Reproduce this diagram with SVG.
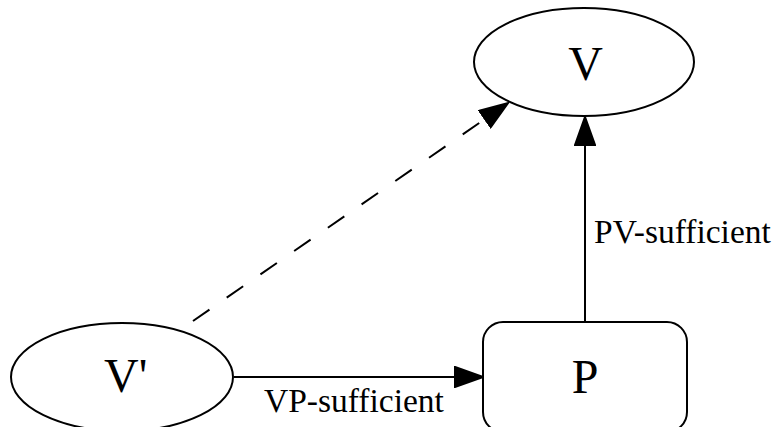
<svg xmlns="http://www.w3.org/2000/svg" width="777" height="427" viewBox="0 0 777 427">
<style>
.node{fill:#fff;stroke:#000;stroke-width:2}
.lbl{font-family:"Liberation Serif","Times New Roman",serif;fill:#000}
.big{font-size:48px}
.small{font-size:33.5px}
.edge{fill:none;stroke:#000;stroke-width:2}
.dash{stroke-dasharray:20,21}
</style>
<defs>
<marker id="ah" markerUnits="userSpaceOnUse" markerWidth="30" markerHeight="22" viewBox="0 0 30 22" refX="1" refY="11" orient="auto">
<path d="M1,1 L29,11 L1,21 Z" fill="#000" stroke="#000" stroke-width="2" stroke-dasharray="none"/>
</marker>
</defs>
<rect width="777" height="427" fill="#fff"/>
<g id="edges">
<line class="edge dash" x1="193" y1="321" x2="485" y2="119" marker-end="url(#ah)"/>
<line class="edge" x1="585" y1="322" x2="585" y2="145" marker-end="url(#ah)"/>
<text class="lbl small" x="594" y="243">PV-sufficient</text>
<line class="edge" x1="234" y1="377" x2="455" y2="377" marker-end="url(#ah)"/>
<text class="lbl small" x="264" y="412">VP-sufficient</text>
</g>
<g id="V">
<ellipse class="node" cx="584" cy="62" rx="110" ry="54"/>
<text class="lbl big" x="585.5" y="80" text-anchor="middle">V</text>
</g>
<g id="Vprime">
<ellipse class="node" cx="122" cy="377" rx="111" ry="54"/>
<text class="lbl big" x="104" y="392">V'</text>
</g>
<g id="P">
<rect class="node" x="483" y="322" width="204" height="110" rx="20" ry="20"/>
<text class="lbl big" x="585" y="393" text-anchor="middle">P</text>
</g>
</svg>
